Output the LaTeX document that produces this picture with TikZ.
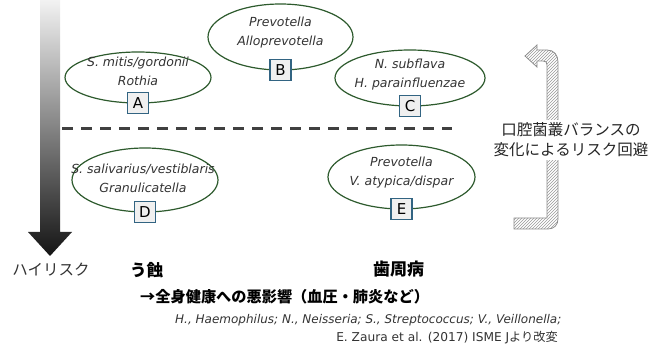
\documentclass[tikz,border=0pt]{standalone}
\usepackage{fontspec}
\setmainfont{DejaVu Sans}
\newfontfamily\jp{Noto Sans CJK JP}
\usetikzlibrary{shapes.geometric,patterns}

\definecolor{ovalgreen}{RGB}{45,90,45}
\definecolor{tagblue}{RGB}{50,100,130}

\begin{document}
\begin{tikzpicture}[x=1pt, y=-1pt,
  oval node/.style={ellipse, draw=ovalgreen, line width=1.2pt, inner sep=0pt, outer sep=0pt},
  name node/.style={align=center, inner sep=0pt, font=\fontsize{12.5}{19}\selectfont\itshape, text=black!80},
  tag node/.style={draw=tagblue, line width=1.3pt, fill=black!6, minimum size=21pt, inner sep=0pt, font=\fontsize{15}{15}\selectfont},
  jp node/.style={inner sep=0pt, font=\jp\fontsize{15.5}{20}\selectfont}]
\useasboundingbox (0,0) rectangle (654,350);

% risk arrow
\shade[top color=black!5, bottom color=black!92] (40,0) -- (60,0) -- (60,232) -- (72,232) -- (50,256) -- (28,232) -- (40,232) -- cycle;

% dashed border
\coordinate (d0) at (62,129);
\coordinate (d1) at (452,129);
\draw[black!75, line width=3pt, dash pattern=on 11pt off 8pt] (d0) -- (d1);

% upper ovals
\node[oval node, minimum width=146pt, minimum height=51pt] (oA) at (138,77.5) {};
\node[oval node, minimum width=145pt, minimum height=66pt] (oB) at (280.5,37) {};
\node[oval node, minimum width=150pt, minimum height=56pt] (oC) at (410,78) {};
% lower ovals
\node[oval node, minimum width=146pt, minimum height=64pt] (oD) at (145,180) {};
\node[oval node, minimum width=147pt, minimum height=64pt] (oE) at (401.5,177) {};

\node[name node] at (138,71.5) {S. mitis/gordonii\\Rothia};
\node[name node] at (280.5,33) {Prevotella\\Alloprevotella};
\node[name node] at (410,75) {N. subflava\\H. parainfluenzae};
\node[name node] at (143,178) {S. salivarius/vestiblaris\\Granulicatella};
\node[name node] at (401.5,173) {Prevotella\\V. atypica/dispar};

\node[tag node] (tA) at (oA.south) {A};
\node[tag node] (tB) at (oB.south) {B};
\node[tag node] (tC) at (oC.south) {C};
\node[tag node] (tD) at (oD.south) {D};
\node[tag node] (tE) at (oE.south) {E};

% balance arrow
\draw[draw=black!45, line width=0.8pt, pattern=north east lines, pattern color=black!40]
  (514,229) -- (548,229) .. controls (554,229) and (558,225) .. (558,219)
  -- (558,62) .. controls (558,55) and (554,50) .. (547,50)
  -- (537,50) -- (537,45) -- (525,56) -- (537,67) -- (537,61) -- (543,61)
  .. controls (546,61) and (547,62) .. (547,65)
  -- (547,218) -- (514,218) -- cycle;
\node[jp node, fill=white, align=center, inner sep=3pt, text=black!85] (shift) at (571,140) {口腔菌叢バランスの\\変化によるリスク回避};

% bottom labels
\node[jp node, text=black!80] (risk) at (51,270) {ハイリスク};
\node[jp node, anchor=west, font=\jp\bfseries\fontsize{16.5}{20}\selectfont] (caries) at (130,270) {う蝕};
\node[jp node, anchor=west, font=\jp\bfseries\fontsize{17}{20}\selectfont] (perio) at (373,269) {歯周病};
\node[jp node, anchor=west, font=\jp\bfseries\fontsize{15.2}{20}\selectfont] (health) at (140,297) {→全身健康への悪影響（血圧・肺炎など）};
\node[anchor=west, inner sep=0pt, font=\fontsize{12}{14}\selectfont\itshape, text=black!80] (abbr) at (175,320) {H., Haemophilus; N., Neisseria; S., Streptococcus; V., Veillonella;};
\node[anchor=east, inner sep=0pt, font=\fontsize{12.2}{14}\selectfont, text=black!80] (ref) at (558,338) {E. Zaura et al. (2017) ISME J{\jp より改変}};
\end{tikzpicture}
\end{document}
